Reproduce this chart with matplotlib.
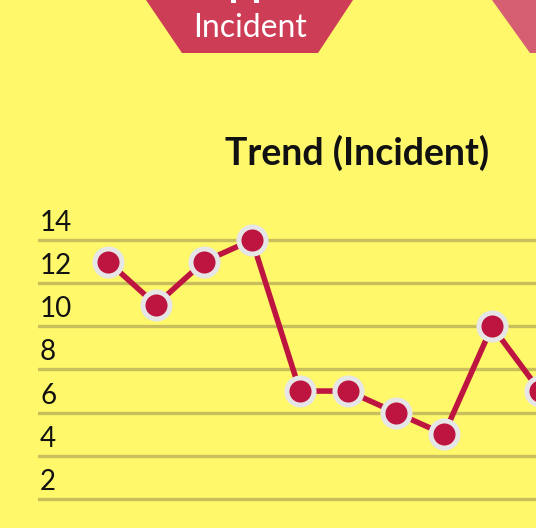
import matplotlib.pyplot as plt
from matplotlib.patches import Polygon, Rectangle
from matplotlib.transforms import ScaledTranslation

# data
points = list(range(1, 11))
incidents = [13, 11, 13, 14, 7, 7, 6, 5, 10, 7]
yticks = [2, 4, 6, 8, 10, 12, 14]

bg = '#fff86a'
red = '#be1540'

fig = plt.figure(figsize=(5.36, 5.28), dpi=100, facecolor=bg)

# decorations in pixel coords
deco = fig.add_axes([0, 0, 1, 1], zorder=0)
deco.set_xlim(0, 536)
deco.set_ylim(528, 0)
deco.axis('off')
deco.add_patch(Polygon([(146, 0), (353, 0), (318, 53), (182, 53)], closed=True, color='#cd3d55', lw=0))
deco.add_patch(Polygon([(492, 0), (540, 0), (540, 53), (530, 53)], closed=True, color='#d55f70', lw=0))
deco.add_patch(Rectangle((231, 0), 5, 3, color='white', lw=0))
deco.add_patch(Rectangle((254, 0), 5, 3, color='white', lw=0))
deco.text(250, 37, 'Incident', color='white', fontsize=23, family='Lato',
          ha='center', va='baseline')
deco.text(357, 165, 'Trend (Incident)', color='#111111', fontsize=27, family='Lato',
          fontweight='bold', ha='center', va='baseline')

# chart axes: value 14 at px 240, value 2 at px 499; point 1 at px 108, step 48
ax = fig.add_axes([38 / 536, 1 - 510 / 528, 1 - 38 / 536, 320 / 528], zorder=1)
ax.patch.set_alpha(0)
ax.set_xlim(1 + (38 - 108) / 48, 1 + (536 - 108) / 48)
ax.set_ylim(14 - (510 - 240) / 21.58, 14 - (190 - 240) / 21.58)
for s in ax.spines.values():
    s.set_visible(False)
ax.set_xticks([])
ax.set_yticks(yticks)
ax.set_yticklabels([str(v) for v in yticks])
ax.tick_params(axis='y', length=0, pad=0, labelsize=20, labelcolor='#111111')
ax.grid(axis='y', color='#c8be5c', lw=2.4)
ax.set_axisbelow(True)
off = ScaledTranslation(2 / 100, 9 / 100, fig.dpi_scale_trans)
for lab in ax.get_yticklabels():
    lab.set_horizontalalignment('left')
    lab.set_verticalalignment('baseline')
    lab.set_transform(lab.get_transform() + off)
    lab.set_family('Lato')

ax.plot(points, incidents, color=red, lw=4, marker='o', markersize=19.5,
        markerfacecolor=red, markeredgecolor='#e6e6e6', markeredgewidth=3.6,
        clip_on=False, zorder=3)

fig.savefig('out.png', dpi=100, facecolor=bg)
